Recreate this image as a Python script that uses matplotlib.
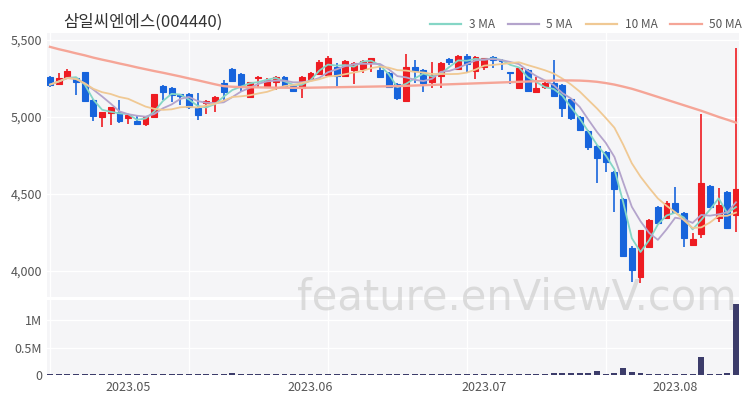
import matplotlib
matplotlib.use("Agg")
import matplotlib.pyplot as plt
import numpy as np
import pandas as pd
from matplotlib.lines import Line2D

# ---------------- data ----------------
title = "삼일씨엔에스(004440)"

opens = [5260, 5215, 5255, 5250, 5290, 5110, 5000, 5025, 5030, 4995,
         4975, 4955, 5000, 5200, 5190, 5150, 5150, 5060, 5090, 5100,
         5220, 5310, 5280, 5130, 5250, 5195, 5225, 5260, 5200, 5190,
         5245, 5280, 5270, 5325, 5265, 5305, 5310, 5355, 5305, 5285,
         5215, 5105, 5325, 5305, 5225, 5265, 5375, 5310, 5395, 5300,
         5325, 5390, 5370, 5290, 5190, 5305, 5165, 5195, 5220, 5210,
         5115, 5000, 4910, 4810, 4775, 4645, 4470, 4150, 3960, 4155,
         4415, 4345, 4440, 4375, 4170, 4240, 4550, 4345, 4515, 4365]
highs = [5265, 5285, 5310, 5260, 5295, 5115, 5035, 5065, 5110, 5015,
         5015, 5000, 5150, 5205, 5195, 5150, 5155, 5155, 5110, 5135,
         5240, 5320, 5285, 5230, 5265, 5255, 5265, 5265, 5205, 5265,
         5290, 5370, 5395, 5350, 5370, 5355, 5370, 5385, 5330, 5290,
         5220, 5410, 5370, 5310, 5355, 5355, 5380, 5400, 5410, 5395,
         5385, 5395, 5375, 5295, 5325, 5310, 5260, 5225, 5370, 5215,
         5120, 5005, 4915, 4815, 4780, 4650, 4475, 4160, 4265, 4335,
         4420, 4455, 4545, 4380, 4245, 5020, 4555, 4540, 4520, 5450]
lows = [5195, 5210, 5245, 5143, 5100, 4975, 4935, 4950, 4960, 4955,
        4950, 4940, 4995, 5110, 5100, 5080, 5050, 4980, 5020, 5030,
        5110, 5230, 5160, 5125, 5195, 5190, 5175, 5190, 5165, 5125,
        5240, 5275, 5265, 5195, 5260, 5215, 5285, 5290, 5255, 5190,
        5110, 5100, 5220, 5160, 5190, 5190, 5340, 5305, 5290, 5245,
        5305, 5320, 5305, 5215, 5185, 5165, 5160, 5180, 5130, 5000,
        4980, 4910, 4785, 4570, 4640, 4380, 4095, 3930, 3920, 4150,
        4305, 4340, 4380, 4155, 4165, 4215, 4410, 4320, 4270, 4255]
closes = [5210, 5250, 5300, 5225, 5105, 5005, 5030, 5065, 4975, 5015,
          4955, 5000, 5150, 5160, 5140, 5135, 5065, 5015, 5105, 5130,
          5160, 5235, 5195, 5225, 5260, 5240, 5260, 5195, 5170, 5260,
          5285, 5355, 5380, 5265, 5365, 5350, 5365, 5380, 5260, 5195,
          5125, 5325, 5300, 5220, 5270, 5350, 5355, 5395, 5345, 5390,
          5380, 5370, 5360, 5285, 5320, 5170, 5190, 5220, 5135, 5060,
          4995, 4915, 4805, 4735, 4710, 4535, 4100, 4005, 4265, 4330,
          4310, 4440, 4385, 4215, 4210, 4570, 4415, 4430, 4280, 4535]
volumes = [16000, 18000, 14000, 20000, 24000, 18000, 15000, 14000, 18000, 13000,
           12000, 14000, 18000, 16000, 13000, 12000, 13000, 14000, 12000, 13000,
           18000, 32000, 16000, 14000, 13000, 12000, 13000, 14000, 12000, 13000,
           14000, 18000, 16000, 14000, 18000, 13000, 16000, 14000, 13000, 12000,
           14000, 24000, 16000, 13000, 12000, 13000, 12000, 13000, 12000, 11000,
           12000, 11000, 12000, 11000, 12000, 13000, 12000, 13000, 32000, 30000,
           28000, 29000, 30000, 68000, 14000, 45000, 125000, 55000, 32000, 24000,
           14000, 13000, 12000, 24000, 13000, 330000, 20000, 14000, 38000, 1290000]
ma50 = [5455, 5440, 5427, 5413, 5400, 5385, 5372, 5360, 5347, 5335,
        5322, 5310, 5298, 5287, 5275, 5263, 5250, 5238, 5225, 5212,
        5200, 5196, 5194, 5193, 5192, 5191, 5190, 5190, 5189, 5189,
        5190, 5191, 5192, 5193, 5194, 5195, 5196, 5197, 5198, 5199,
        5200, 5202, 5204, 5206, 5208, 5210, 5212, 5214, 5216, 5218,
        5220, 5222, 5224, 5226, 5228, 5230, 5232, 5234, 5236, 5237,
        5237, 5236, 5233, 5228, 5220, 5210, 5197, 5183, 5166, 5148,
        5130, 5112, 5094, 5076, 5058, 5040, 5020, 5000, 4982, 4963]

month_ticks = [9, 30, 50, 72]
month_labels = ["2023.05", "2023.06", "2023.07", "2023.08"]
grid_x = [0, 16, 32, 48, 64]
price_ticks = [4000, 4500, 5000, 5500]
vol_ticks = [0, 500000, 1000000]
vol_labels = ["0", "0.5M", "1M"]
ma_periods = [3, 5, 10]
ma_labels = ["3 MA", "5 MA", "10 MA", "50 MA"]

# ---------------- style ----------------
UP = "#ee1c22"
DOWN = "#1764dc"
MA_COLORS = ["#85d6c6", "#b4a4cc", "#f0c994", "#f5a597"]
BG = "#f5f5f7"
TXT = "#555555"

plt.rcParams["font.family"] = ["Noto Sans CJK KR", "DejaVu Sans"]

fig = plt.figure(figsize=(7.5, 4), dpi=100)
fig.patch.set_facecolor("white")

L, R = 47 / 750, 739 / 750
ax = fig.add_axes([L, 1 - 297 / 400, R - L, (297 - 33) / 400])
axv = fig.add_axes([L, 1 - 375 / 400, R - L, (375 - 300) / 400])

x = np.arange(len(closes))
o = np.array(opens, float)
h = np.array(highs, float)
lo = np.array(lows, float)
c = np.array(closes, float)
colors = [UP if cc > oo else DOWN for oo, cc in zip(o, c)]

for a in (ax, axv):
    a.set_facecolor(BG)
    for s in a.spines.values():
        s.set_visible(False)
    a.tick_params(length=0, labelsize=9, colors=TXT)
    a.set_axisbelow(True)

# candles
ax.vlines(x, lo, h, colors=colors, linewidth=1.2, zorder=2)
ax.bar(x, np.abs(c - o), bottom=np.minimum(o, c), width=0.68,
       color=colors, edgecolor=colors, linewidth=0.8, zorder=3)

# moving averages
cs = pd.Series(c)
for p, col in zip(ma_periods, MA_COLORS[:3]):
    ax.plot(x, cs.rolling(p, min_periods=1).mean(), color=col, lw=1.3, zorder=4)
ax.plot(x, ma50, color=MA_COLORS[3], lw=1.7, zorder=4)

ax.set_xlim(-0.345, len(x) - 1 + 0.345)
ax.set_ylim(3831, 5545)
ax.set_yticks(price_ticks)
ax.set_yticklabels([f"{v:,}" for v in price_ticks])
ax.set_xticks(grid_x)
ax.set_xticklabels([])
ax.grid(True, color="white", lw=1.0)

# volume
axv.bar(x, volumes, width=0.68, color="#3c3c6a", zorder=3)
axv.set_xlim(ax.get_xlim())
axv.set_ylim(0, 1.364e6)
axv.set_yticks(vol_ticks)
axv.set_yticklabels(vol_labels)
axv.set_xticks(month_ticks)
axv.set_xticklabels(month_labels)
axv.set_xticks(grid_x, minor=True)
axv.tick_params(which="minor", length=0)
axv.grid(True, axis="y", color="white", lw=1.0)
axv.grid(True, axis="x", which="minor", color="white", lw=1.0)
axv.tick_params(axis="x", pad=4)

# title
fig.text(63 / 750, 1 - 22 / 400, title, fontsize=12, color="#333333",
         ha="left", va="center")

# legend
handles = [Line2D([0], [0], color=col, lw=1.6) for col in MA_COLORS]
leg = fig.legend(handles, ma_labels, ncol=4, loc="center right",
                 bbox_to_anchor=(742 / 750, 1 - 25 / 400), frameon=False,
                 fontsize=8.5, handlelength=2.7, handletextpad=0.6,
                 columnspacing=1.1, borderaxespad=0, borderpad=0)
for t in leg.get_texts():
    t.set_color(TXT)

# watermark
fig.text(517 / 750, 1 - 298 / 400, "feature.enViewV.com", fontsize=30,
         color="#c8c8c8", alpha=0.6, ha="center", va="center",
         family="DejaVu Sans", zorder=10)

fig.savefig("out.png", dpi=100)
